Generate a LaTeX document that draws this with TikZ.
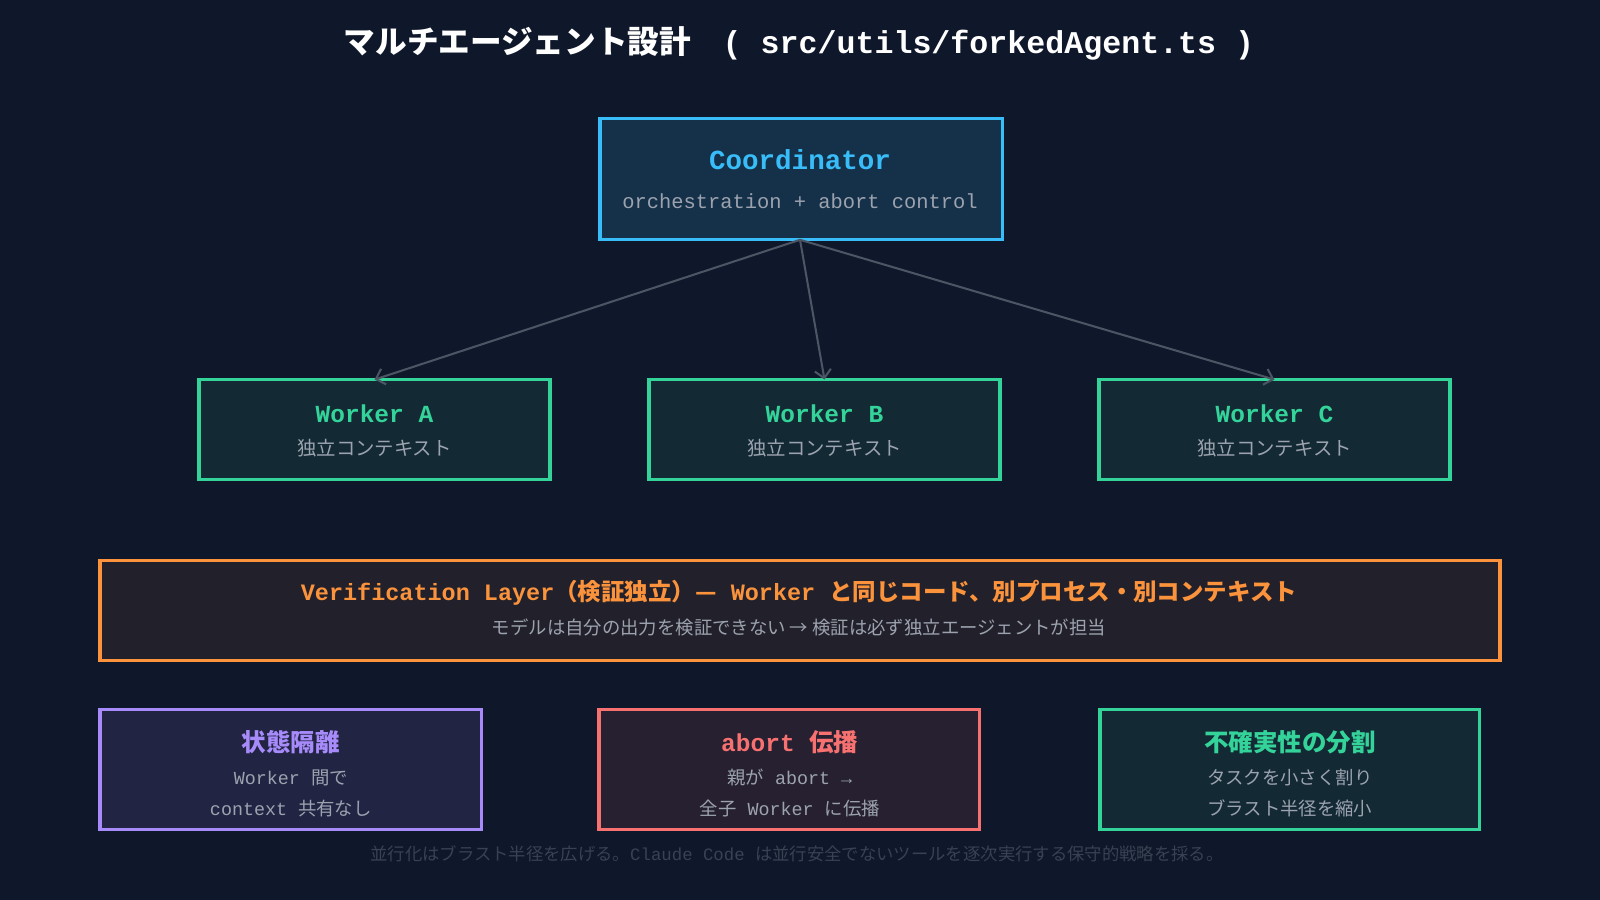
\documentclass[tikz,border=0pt]{standalone}
\usepackage{fontspec}
\setmainfont{Liberation Mono}
\newfontfamily\cjk{Noto Sans CJK JP}
\usetikzlibrary{arrows.meta}
\definecolor{bgc}{HTML}{0F172A}
\definecolor{blu}{HTML}{38BDF8}
\definecolor{grn}{HTML}{34D399}
\definecolor{org}{HTML}{FB923C}
\definecolor{pur}{HTML}{A78BFA}
\definecolor{rd}{HTML}{F87171}
\definecolor{txt}{HTML}{9CA3AF}
\definecolor{lin}{HTML}{4B5563}
\newcommand{\jp}[1]{{\cjk #1}}
\tikzset{
  box/.style={draw, line width=3pt, inner sep=0pt},
  ttl/.style={font=\bfseries\fontsize{24}{28}\selectfont},
  sub/.style={text=txt, font=\fontsize{19}{22}\selectfont},
  link/.style={draw=lin, line width=2pt, -{Straight Barb[length=8pt,width=16pt]}}
}
\begin{document}
\begin{tikzpicture}[x=1pt, y=-1pt]
    \fill[bgc] (0,0) rectangle (1568,882);
    \useasboundingbox (0,0) rectangle (1568,882);

    % title
    \node[text=white, font=\bfseries\fontsize{31}{36}\selectfont] (title) at (783,43)
        {\jp{マルチエージェント設計}\quad( src/utils/forkedAgent.ts )};

    % coordinator
    \draw[box, draw=blu, fill=blu!15!bgc] (588,116) rectangle (982,235);
    \node[ttl, text=blu, font=\bfseries\fontsize{27}{30}\selectfont] (coordT) at (784,156) {Coordinator};
    \node[sub, font=\fontsize{20}{24}\selectfont] (coordS) at (784,197) {orchestration + abort control};
    \coordinate (coord) at (784,235);

    % workers
    \foreach \n/\x/\lab in {wa/367/A, wb/808/B, wc/1249/C} {
        \draw[box, draw=grn, fill=grn!10!bgc] (\x-172,372) rectangle (\x+172,470);
        \node[ttl, text=grn] (\n) at (\x,405) {Worker \lab};
        \node[sub] at (\x,439) {\jp{独立コンテキスト}};
        \coordinate (\n top) at (\x,372);
    }
    \draw[link] (coord) -- (watop);
    \draw[link] (coord) -- (wbtop);
    \draw[link] (coord) -- (wctop);

    % verification layer
    \draw[box, draw=org, fill=org!8!bgc] (98,549) rectangle (1470,647);
    \node[ttl, text=org, font=\bfseries\fontsize{23}{26}\selectfont] (veri) at (783,581)
        {Verification Layer\jp{（検証独立）—} Worker \jp{と同じコード、別プロセス・別コンテキスト}};
    \node[sub, font=\fontsize{18}{22}\selectfont] (veriS) at (783,615) {\jp{モデルは自分の出力を検証できない → 検証は必ず独立エージェントが担当}};

    % bottom boxes
    \draw[box, draw=pur, fill=pur!12!bgc] (98,695) rectangle (472,813);
    \node[ttl, text=pur] (iso) at (285,727) {\jp{状態隔離}};
    \node[sub, font=\fontsize{18}{22}\selectfont] at (285,762) {Worker \jp{間で}};
    \node[sub, font=\fontsize{18}{22}\selectfont] at (285,792) {context \jp{共有なし}};

    \draw[box, draw=rd, fill=rd!10!bgc] (587,695) rectangle (960,813);
    \node[ttl, text=rd] (abrt) at (774,727) {abort \jp{伝播}};
    \node[sub, font=\fontsize{18}{22}\selectfont] at (774,762) {\jp{親が} abort →};
    \node[sub, font=\fontsize{18}{22}\selectfont] at (774,792) {\jp{全子} Worker \jp{に伝播}};

    \draw[box, draw=grn, fill=grn!10!bgc] (1078,695) rectangle (1450,813);
    \node[ttl, text=grn] (split) at (1264,727) {\jp{不確実性の分割}};
    \node[sub, font=\fontsize{18}{22}\selectfont] at (1264,762) {\jp{タスクを小さく割り}};
    \node[sub, font=\fontsize{18}{22}\selectfont] at (1264,792) {\jp{ブラスト半径を縮小}};

    % footer
    \node[text=lin!70!bgc, font=\fontsize{17}{20}\selectfont] (foot) at (781,837)
        {\jp{並行化はブラスト半径を広げる。}Claude Code \jp{は並行安全でないツールを逐次実行する保守的戦略を採る。}};
\end{tikzpicture}
\end{document}
